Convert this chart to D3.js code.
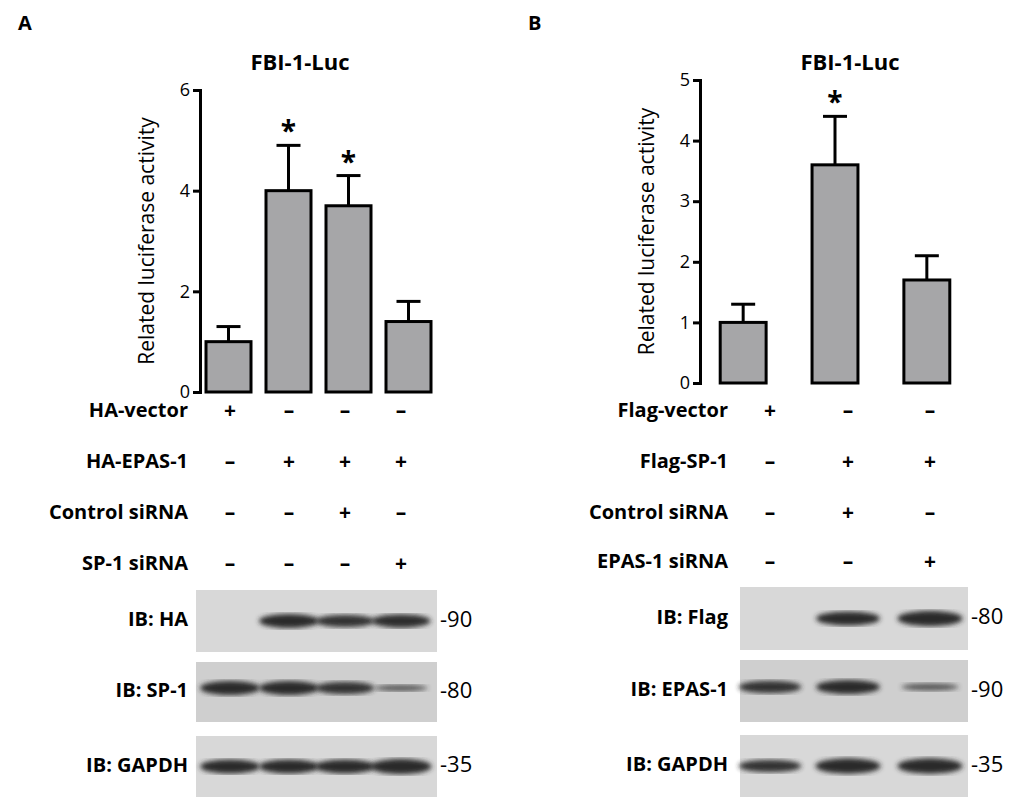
<!DOCTYPE html><html><head><script src="https://cdn.jsdelivr.net/npm/d3@7"></script>
<style>body{margin:0;background:#fff}text{font-family:"Open Sans",Calibri,sans-serif}</style></head><body>
<svg id="c" width="1024" height="809"></svg>
<script>
const aValues=[1,4,3.7,1.4], aErr=[0.3,0.9,0.6,0.4], aStar=[false,true,true,false];
const aRows=["HA-vector","HA-EPAS-1","Control siRNA","SP-1 siRNA"];
const aSigns=[["+","–","–","–"],["–","+","+","+"],["–","–","+","–"],["–","–","–","+"]];
const aBlots=["IB: HA","IB: SP-1","IB: GAPDH"], aMW=["-90","-80","-35"];
const aBands=[[0,1,0.9,0.95],[1,1,0.9,0.45],[1,1,1,1.1]];
const bValues=[1,3.6,1.7], bErr=[0.3,0.8,0.4], bStar=[false,true,false];
const bRows=["Flag-vector","Flag-SP-1","Control siRNA","EPAS-1 siRNA"];
const bSigns=[["+","–","–"],["–","+","+"],["–","+","–"],["–","–","+"]];
const bBlots=["IB: Flag","IB: EPAS-1","IB: GAPDH"], bMW=["-80","-90","-35"];
const bBands=[[0,1,1.1],[0.9,1,0.5],[0.9,1.1,1.1]];
const svg=d3.select("#c");
const defs=svg.append("defs");
defs.append("filter").attr("id","bl").append("feGaussianBlur").attr("stdDeviation",2.5);

function panel(o){
  const g=svg.append("g");
  g.append("text").attr("x",o.lx).attr("y",30).attr("font-weight","bold").attr("font-size",20).text(o.letter);
  const y=d3.scaleLinear().domain([0,o.ymax]).range([o.y0,o.y1]);
  const x=d3.scaleBand().domain(d3.range(o.vals.length)).range([o.ax,o.ax2]).paddingInner(o.pi).paddingOuter(o.po);
  g.append("text").attr("x",o.tx).attr("y",70).attr("text-anchor","middle").attr("font-weight","bold").attr("font-size",22).text("FBI-1-Luc");
  const ax=g.append("g").attr("transform",`translate(${o.ax},0)`).call(d3.axisLeft(y).tickValues(o.ticks).tickSize(7).tickFormat(d3.format("d")));
  ax.selectAll("path,line").attr("stroke","#000").attr("stroke-width",3);
  ax.selectAll("text").attr("font-size",18).attr("font-family","Open Sans");
  g.append("text").attr("transform",`translate(${o.ax-46},${(o.y0+o.y1)/2}) rotate(-90)`).attr("text-anchor","middle").attr("font-size",21).text("Related luciferase activity");
  o.vals.forEach((v,i)=>{
    const cx=x(i)+x.bandwidth()/2, top=y(v+o.err[i]);
    g.append("line").attr("x1",cx).attr("x2",cx).attr("y1",y(v)).attr("y2",top).attr("stroke","#000").attr("stroke-width",3);
    g.append("line").attr("x1",cx-12).attr("x2",cx+12).attr("y1",top).attr("y2",top).attr("stroke","#000").attr("stroke-width",3);
    g.append("rect").attr("x",x(i)).attr("y",y(v)).attr("width",x.bandwidth()).attr("height",o.y0-y(v)).attr("fill","#a6a6a8").attr("stroke","#000").attr("stroke-width",3);
    if(o.star[i]) g.append("text").attr("x",cx).attr("y",top-4).attr("text-anchor","middle").attr("font-size",28).attr("font-weight","bold").text("*");
  });
  o.rows.forEach((r,j)=>{
    const yy=o.rowY[j];
    g.append("text").attr("x",o.labX).attr("y",yy).attr("text-anchor","end").attr("font-weight","bold").attr("font-size",20).attr("dominant-baseline","middle").text(r);
    o.signs[j].forEach((s,i)=>g.append("text").attr("x",o.cols[i]).attr("y",yy).attr("text-anchor","middle").attr("font-weight","bold").attr("font-size",21).attr("dominant-baseline","middle").text(s));
  });
  o.blots.forEach((b,k)=>{
    const [y0,y1]=o.boxY[k];
    g.append("rect").attr("x",o.bx0).attr("y",y0).attr("width",o.bx1-o.bx0).attr("height",y1-y0).attr("fill",k==1?"#cfcfcf":"#d8d8d8");
    g.append("text").attr("x",o.labX).attr("y",(y0+y1)/2).attr("text-anchor","end").attr("font-weight","bold").attr("font-size",20).attr("dominant-baseline","middle").text(b);
    g.append("text").attr("x",o.bx1+3).attr("y",(y0+y1)/2).attr("font-size",22).attr("dominant-baseline","middle").text(o.mw[k]);
    o.bands[k].forEach((s,i)=>{ if(s>0) g.append("ellipse").attr("cx",o.cols[i]).attr("cy",(y0+y1)/2+(k==1?-4:0)).attr("rx",o.bw*(0.8+0.2*s)).attr("ry",7*s).attr("fill","#2a2a2a").attr("opacity",Math.min(1,0.5+0.5*s)).attr("filter","url(#bl)");});
  });
}
panel({letter:"A",lx:18,tx:300,vals:aValues,err:aErr,star:aStar,ymax:6,ticks:[0,2,4,6],y0:392,y1:90,ax:200,ax2:437,pi:0.25,po:0.1,
  rows:aRows,signs:aSigns,rowY:[412,463,514,565],labX:188,cols:[230,289,345,401],
  blots:aBlots,boxY:[[590,652],[662,722],[736,797]],bx0:196,bx1:437,mw:aMW,bands:aBands,bw:30});
panel({letter:"B",lx:528,tx:850,vals:bValues,err:bErr,star:bStar,ymax:5,ticks:[0,1,2,3,4,5],y0:383,y1:80,ax:700,ax2:970,pi:0.5,po:0.22,
  rows:bRows,signs:bSigns,rowY:[412,463,514,563],labX:728,cols:[770,848,930],
  blots:bBlots,boxY:[[587,650],[660,722],[735,797]],bx0:740,bx1:968,mw:bMW,bands:bBands,bw:32});
</script></body></html>
